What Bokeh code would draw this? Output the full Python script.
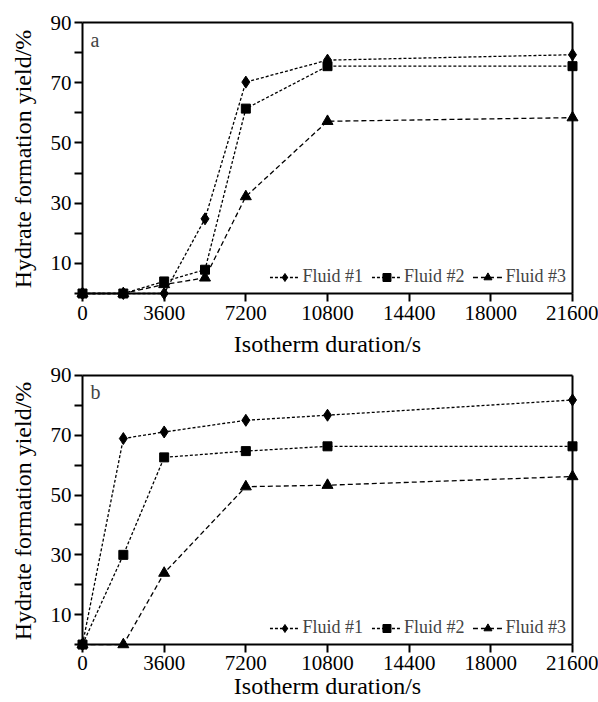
from bokeh.plotting import figure
from bokeh.layouts import column
from bokeh.models import Range1d, FixedTicker, Label, Legend, LegendItem, LinearAxis
from bokeh.embed import file_html
from bokeh.resources import INLINE

# ---- data ----
x_ticks = [0, 3600, 7200, 10800, 14400, 18000, 21600]
y_major = [10, 30, 50, 70, 90]
y_minor = [0, 20, 40, 60, 80]
x_lo, x_hi = 0, 21600
y_lo, y_hi = 0, 90

names = ["Fluid #1", "Fluid #2", "Fluid #3"]

a_x = [0, 1800, 3600, 5400, 7200, 10800, 21600]
a_f1 = [0, 0, 0, 24.8, 70.2, 77.5, 79.3]
a_f2 = [0, 0, 4.0, 7.9, 61.4, 75.5, 75.5]
a_f3 = [0, 0, 3.0, 5.2, 32.2, 57.2, 58.4]

b_x = [0, 1800, 3600, 7200, 10800, 21600]
b_f1 = [0, 68.9, 71.1, 75.0, 76.7, 81.8]
b_f2 = [0, 30.0, 62.6, 64.7, 66.3, 66.3]
b_f3 = [0, 0, 23.9, 52.8, 53.3, 56.2]

FONT = "Liberation Serif"
markers = ["diamond", "square", "triangle"]
msizes = [12, 9, 11]
dashes = ["3 2", "3 2", "5 3"]

TICK = 8            # tick length in px (= padding of frame beyond the data box)
X_PX = 490          # px width of data box
Y_PX = 271          # px height of data box
PAD_X = TICK * (x_hi - x_lo) / X_PX
PAD_YB = TICK * (y_hi - y_lo) / Y_PX
PAD_YT = 6 * (y_hi - y_lo) / Y_PX


def label_axis(ax):
    # axis on the frame edge: ticks pointing inward up to the data box, labels and title
    ax.axis_line_color = None
    ax.major_tick_line_width = 2
    ax.minor_tick_line_width = 2
    ax.major_tick_line_color = "black"
    ax.minor_tick_line_color = "black"
    ax.major_tick_out = 0
    ax.major_tick_in = TICK
    ax.minor_tick_out = 0
    ax.minor_tick_in = TICK
    ax.major_label_text_font = FONT
    ax.major_label_text_font_size = "21px"
    ax.major_label_text_color = "black"
    ax.axis_label_text_font = FONT
    ax.axis_label_text_font_size = "24px"
    ax.axis_label_text_font_style = "normal"
    ax.axis_label_text_color = "black"


def border_axis(fixed, bounds):
    # plain line drawn at the data limit
    ax = LinearAxis(ticker=FixedTicker(ticks=[], minor_ticks=[]),
                    fixed_location=fixed, bounds=bounds)
    ax.axis_line_width = 2
    ax.axis_line_color = "black"
    ax.major_tick_out = 0
    ax.major_tick_in = 0
    ax.minor_tick_out = 0
    ax.minor_tick_in = 0
    ax.major_label_text_font_size = "0px"
    return ax


def make_panel(xs, series, tag, height, top, bottom, label_standoff, title_standoff):
    p = figure(width=598, height=height, output_backend="svg", toolbar_location=None,
               x_range=Range1d(x_lo - PAD_X, x_hi + PAD_X),
               y_range=Range1d(y_lo - PAD_YB, y_hi + PAD_YT),
               min_border_left=74, min_border_right=18,
               min_border_top=top, min_border_bottom=bottom)
    p.xgrid.visible = False
    p.ygrid.visible = False
    p.outline_line_color = None

    items = []
    for ys, nm, mk, ms, ds in zip(series, names, markers, msizes, dashes):
        r1 = p.line(xs, ys, line_color="black", line_width=1.3, line_dash=ds)
        r2 = p.scatter(xs, ys, marker=mk, size=ms, fill_color="black", line_color="black",
                       level="overlay")
        items.append(LegendItem(label=nm, renderers=[r1, r2]))

    leg = Legend(items=items, orientation="horizontal", location="bottom_right",
                 border_line_color=None, background_fill_alpha=0,
                 label_text_font=FONT, label_text_font_size="18px",
                 glyph_width=30, spacing=8, padding=4, margin=14,
                 label_standoff=3)
    p.add_layout(leg)

    xa = p.xaxis[0]
    ya = p.yaxis[0]
    label_axis(xa)
    label_axis(ya)
    xa.ticker = FixedTicker(ticks=x_ticks, minor_ticks=[])
    ya.ticker = FixedTicker(ticks=y_major, minor_ticks=y_minor)
    xa.axis_label = "Isotherm duration/s"
    ya.axis_label = "Hydrate formation yield/%"
    xa.major_label_standoff = label_standoff
    xa.axis_label_standoff = title_standoff
    ya.major_label_standoff = 3
    ya.axis_label_standoff = 12

    p.add_layout(border_axis(y_lo, (x_lo, x_hi)), "below")
    p.add_layout(border_axis(x_lo, (y_lo, y_hi)), "left")
    p.add_layout(border_axis(x_hi, (y_lo, y_hi)), "right")
    p.add_layout(border_axis(y_hi, (x_lo, x_hi)), "above")

    p.add_layout(Label(x=x_lo, y=y_hi, x_offset=8, y_offset=-6, text=tag,
                       text_font=FONT, text_font_size="20px",
                       text_baseline="top", text_align="left"))
    return p


pa = make_panel(a_x, [a_f1, a_f2, a_f3], "a", 363, 16, 62, 4, 8)
pb = make_panel(b_x, [b_f1, b_f2, b_f3], "b", 339, 6, 50, 3, 0)

layout = column(pa, pb, spacing=0)
open("out.html", "w").write(file_html(layout, INLINE))
